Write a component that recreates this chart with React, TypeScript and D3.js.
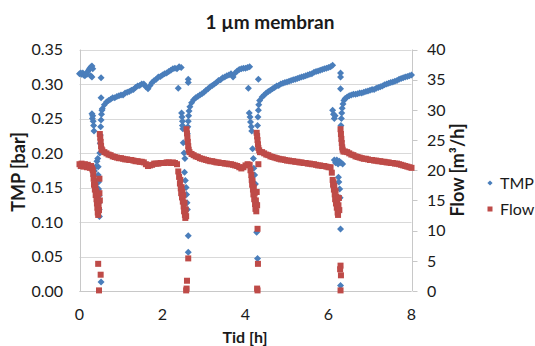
import React from 'react';
import * as d3 from 'd3';

type P = [number, number];

// ---- axis ticks ----
const xTicks = [0, 2, 4, 6, 8];
const tmpTicks = [0, 0.05, 0.1, 0.15, 0.2, 0.25, 0.3, 0.35];
const flowTicks = [0, 5, 10, 15, 20, 25, 30, 35, 40];

// ---- TMP [bar] (time h, value) ----
const tmpRun0: P[] = [[0.00,0.315],[0.03,0.316],[0.05,0.314],[0.08,0.316],[0.10,0.313],[0.13,0.312],[0.15,0.315],[0.18,0.314],[0.20,0.318],[0.23,0.321],[0.25,0.323],[0.28,0.325],[0.30,0.326],[0.32,0.322],[0.30,0.310],[0.27,0.312]];
const tmpDrop1: P[] = [[0.30,0.257],[0.31,0.250],[0.32,0.254],[0.33,0.246],[0.34,0.240],[0.35,0.232],[0.36,0.174],[0.39,0.180],[0.42,0.188],[0.44,0.192],[0.45,0.180],[0.45,0.168],[0.46,0.158],[0.46,0.148],[0.47,0.138],[0.47,0.128],[0.475,0.118],[0.48,0.108],[0.52,0.309],[0.52,0.280],[0.52,0.013],[0.49,0.200],[0.50,0.214],[0.50,0.226],[0.51,0.238],[0.52,0.248],[0.53,0.256],[0.54,0.262]];
const tmpRun1: P[] = [[0.55,0.264],[0.60,0.270],[0.65,0.274],[0.70,0.276],[0.75,0.278],[0.80,0.280],[0.85,0.280],[0.90,0.282],[0.95,0.283],[1.00,0.284],[1.05,0.284],[1.10,0.287],[1.15,0.288],[1.20,0.289],[1.25,0.291],[1.30,0.292],[1.35,0.295],[1.40,0.297],[1.45,0.298],[1.50,0.300],[1.55,0.300],[1.60,0.296],[1.65,0.293],[1.70,0.298],[1.75,0.302],[1.80,0.305],[1.85,0.307],[1.90,0.310],[1.95,0.311],[2.00,0.313],[2.05,0.315],[2.10,0.316],[2.15,0.318],[2.20,0.320],[2.25,0.322],[2.30,0.323],[2.35,0.322],[2.40,0.325],[2.45,0.324]];
const tmpDrop2: P[] = [[2.38,0.294],[2.62,0.307],[2.62,0.302],[2.46,0.258],[2.47,0.252],[2.48,0.246],[2.48,0.240],[2.49,0.235],[2.50,0.215],[2.52,0.200],[2.54,0.192],[2.53,0.172],[2.55,0.160],[2.57,0.150],[2.58,0.140],[2.59,0.128],[2.60,0.118],[2.62,0.080],[2.62,0.056],[2.60,0.228],[2.61,0.238],[2.62,0.246],[2.63,0.254],[2.64,0.261],[2.66,0.267]];
const tmpRun2: P[] = [[2.70,0.273],[2.75,0.277],[2.80,0.280],[2.85,0.282],[2.90,0.284],[2.95,0.286],[3.00,0.288],[3.05,0.291],[3.10,0.293],[3.15,0.296],[3.20,0.298],[3.25,0.300],[3.30,0.302],[3.35,0.305],[3.40,0.306],[3.45,0.309],[3.50,0.310],[3.55,0.312],[3.60,0.313],[3.65,0.315],[3.70,0.310],[3.75,0.316],[3.80,0.319],[3.85,0.321],[3.90,0.322],[3.95,0.323],[4.00,0.323],[4.05,0.324],[4.10,0.325]];
const tmpDrop3: P[] = [[4.07,0.294],[4.31,0.307],[4.09,0.258],[4.11,0.252],[4.12,0.245],[4.14,0.238],[4.15,0.232],[4.17,0.206],[4.19,0.192],[4.20,0.178],[4.22,0.168],[4.24,0.155],[4.25,0.142],[4.26,0.128],[4.27,0.085],[4.29,0.047],[4.27,0.228],[4.29,0.240],[4.30,0.252],[4.31,0.262],[4.32,0.270],[4.34,0.276]];
const tmpRun3: P[] = [[4.40,0.281],[4.45,0.284],[4.50,0.287],[4.55,0.289],[4.60,0.291],[4.65,0.293],[4.70,0.295],[4.75,0.297],[4.80,0.298],[4.85,0.300],[4.90,0.301],[4.95,0.302],[5.00,0.303],[5.05,0.304],[5.10,0.305],[5.15,0.306],[5.20,0.307],[5.25,0.308],[5.30,0.309],[5.35,0.310],[5.40,0.311],[5.45,0.312],[5.50,0.313],[5.55,0.314],[5.60,0.315],[5.65,0.317],[5.70,0.318],[5.75,0.319],[5.80,0.320],[5.85,0.321],[5.90,0.322],[5.95,0.323],[6.00,0.324],[6.05,0.325],[6.10,0.327]];
const tmpDrop4: P[] = [[6.29,0.316],[6.29,0.310],[6.29,0.293],[6.10,0.262],[6.12,0.256],[6.14,0.250],[6.16,0.254],[6.14,0.190],[6.17,0.186],[6.20,0.190],[6.23,0.184],[6.26,0.188],[6.30,0.186],[6.34,0.184],[6.24,0.165],[6.25,0.158],[6.27,0.148],[6.28,0.135],[6.29,0.090],[6.29,0.008],[6.30,0.240],[6.31,0.250],[6.32,0.258],[6.33,0.265],[6.35,0.271],[6.37,0.276]];
const tmpRun4: P[] = [[6.40,0.279],[6.45,0.281],[6.50,0.283],[6.55,0.284],[6.60,0.285],[6.65,0.285],[6.70,0.286],[6.75,0.287],[6.80,0.287],[6.85,0.288],[6.90,0.289],[6.95,0.290],[7.00,0.291],[7.05,0.292],[7.10,0.292],[7.15,0.294],[7.20,0.295],[7.25,0.296],[7.30,0.297],[7.35,0.299],[7.40,0.300],[7.45,0.301],[7.50,0.302],[7.55,0.303],[7.60,0.304],[7.65,0.305],[7.70,0.307],[7.75,0.308],[7.80,0.309],[7.85,0.310],[7.90,0.311],[7.95,0.312],[8.00,0.313]];

// ---- Flow [m3/h] (time h, value) ----
const flowRun0: P[] = [[0.00,21.0],[0.03,20.7],[0.05,21.1],[0.08,20.8],[0.10,20.6],[0.13,21.0],[0.15,20.7],[0.18,20.5],[0.20,20.9],[0.23,20.6],[0.25,20.4],[0.28,20.7],[0.30,20.3],[0.32,20.0]];
const flowDrop1: P[] = [[0.33,19.4],[0.34,18.6],[0.35,17.6],[0.36,18.2],[0.37,16.8],[0.38,17.5],[0.39,15.9],[0.40,16.6],[0.41,15.2],[0.42,16.0],[0.42,14.5],[0.43,13.8],[0.44,15.3],[0.44,13.0],[0.45,12.6],[0.46,14.2],[0.47,13.4],[0.48,18.6],[0.48,16.2],[0.49,15.0],[0.45,4.5],[0.51,2.7],[0.47,0.1],[0.49,26.0],[0.50,25.4],[0.51,24.7],[0.52,24.0],[0.53,23.5]];
const flowRun1: P[] = [[0.55,23.3],[0.60,23.0],[0.65,22.8],[0.70,22.6],[0.75,22.5],[0.80,22.3],[0.85,22.2],[0.90,22.1],[0.95,22.0],[1.00,22.0],[1.05,21.9],[1.10,21.8],[1.15,21.8],[1.20,21.7],[1.25,21.7],[1.30,21.6],[1.35,21.5],[1.40,21.5],[1.45,21.4],[1.50,21.4],[1.55,21.3],[1.60,21.0],[1.65,20.7],[1.70,20.8],[1.75,20.9],[1.80,21.1],[1.85,21.1],[1.90,21.1],[1.95,21.2],[2.00,21.2],[2.05,21.2],[2.10,21.3],[2.15,21.3],[2.20,21.2],[2.25,21.3],[2.30,21.2],[2.35,21.0]];
const flowDrop2: P[] = [[2.38,19.8],[2.40,18.9],[2.42,17.8],[2.43,18.4],[2.44,17.0],[2.45,16.2],[2.46,17.2],[2.47,15.5],[2.48,16.4],[2.49,14.8],[2.50,15.8],[2.51,14.0],[2.52,13.2],[2.53,14.6],[2.54,12.6],[2.55,12.1],[2.56,13.5],[2.57,12.4],[2.62,5.4],[2.59,1.7],[2.57,0.1],[2.58,0.4],[2.58,26.8],[2.59,26.1],[2.60,25.4],[2.61,24.7],[2.62,24.0],[2.63,23.4],[2.65,23.0]];
const flowRun2: P[] = [[2.70,22.7],[2.75,22.5],[2.80,22.3],[2.85,22.2],[2.90,22.0],[2.95,21.9],[3.00,21.8],[3.05,21.7],[3.10,21.6],[3.15,21.5],[3.20,21.5],[3.25,21.4],[3.30,21.3],[3.35,21.3],[3.40,21.2],[3.45,21.2],[3.50,21.1],[3.55,21.1],[3.60,21.0],[3.65,21.0],[3.70,20.9],[3.75,20.8],[3.80,20.7],[3.85,20.5],[3.90,20.3],[3.95,20.5],[4.00,20.8],[4.05,21.0],[4.10,20.9]];
const flowDrop3: P[] = [[4.12,20.0],[4.14,19.2],[4.15,18.4],[4.16,17.6],[4.17,18.2],[4.18,16.8],[4.19,16.0],[4.20,17.2],[4.21,15.2],[4.22,16.2],[4.23,14.4],[4.24,13.6],[4.25,15.0],[4.26,13.2],[4.27,16.4],[4.28,14.2],[4.31,21.0],[4.29,10.3],[4.30,4.5],[4.29,0.1],[4.28,0.4],[4.27,26.2],[4.28,25.6],[4.29,25.0],[4.30,24.3],[4.31,23.7],[4.33,23.3],[4.35,23.0]];
const flowRun3: P[] = [[4.40,23.0],[4.45,22.8],[4.50,22.6],[4.55,22.5],[4.60,22.3],[4.65,22.2],[4.70,22.1],[4.75,22.0],[4.80,21.9],[4.85,21.8],[4.90,21.8],[4.95,21.7],[5.00,21.6],[5.05,21.6],[5.10,21.5],[5.15,21.5],[5.20,21.4],[5.25,21.4],[5.30,21.3],[5.35,21.3],[5.40,21.2],[5.45,21.2],[5.50,21.1],[5.55,21.1],[5.60,21.0],[5.65,21.0],[5.70,20.9],[5.75,20.8],[5.80,20.8],[5.85,20.7],[5.90,20.7],[5.95,20.6],[6.00,20.5],[6.05,20.5]];
const flowDrop4: P[] = [[6.08,19.6],[6.10,18.4],[6.11,17.6],[6.12,18.0],[6.13,16.8],[6.14,17.4],[6.15,16.0],[6.16,15.2],[6.17,16.6],[6.18,14.5],[6.19,15.6],[6.20,13.8],[6.21,14.8],[6.22,13.0],[6.23,12.6],[6.24,14.2],[6.25,15.4],[6.26,13.4],[6.29,4.2],[6.28,3.6],[6.30,2.6],[6.29,0.1],[6.29,26.8],[6.30,26.0],[6.31,25.2],[6.32,24.5],[6.33,23.8],[6.34,23.4],[6.36,23.1]];
const flowRun4: P[] = [[6.40,23.1],[6.45,23.0],[6.50,22.8],[6.55,22.6],[6.60,22.5],[6.65,22.3],[6.70,22.2],[6.75,22.1],[6.80,22.0],[6.85,21.9],[6.90,21.9],[6.95,21.8],[7.00,21.7],[7.05,21.7],[7.10,21.6],[7.15,21.6],[7.20,21.5],[7.25,21.5],[7.30,21.4],[7.35,21.4],[7.40,21.3],[7.45,21.3],[7.50,21.2],[7.55,21.2],[7.60,21.1],[7.65,21.1],[7.70,21.0],[7.75,20.9],[7.80,20.8],[7.85,20.7],[7.90,20.6],[7.95,20.5],[8.00,20.4]];

const tmpData: P[] = [...tmpRun0, ...tmpDrop1, ...tmpRun1, ...tmpDrop2, ...tmpRun2, ...tmpDrop3, ...tmpRun3, ...tmpDrop4, ...tmpRun4];
const flowData: P[] = [...flowRun0, ...flowDrop1, ...flowRun1, ...flowDrop2, ...flowRun2, ...flowDrop3, ...flowRun3, ...flowDrop4, ...flowRun4];

const BLUE = '#4a7ebb';
const RED = '#be4b48';
const FONT = 'Lato, "Open Sans", sans-serif';
const TXT = '#1a1a1a';

export default function App() {
  const W = 535, H = 346;
  const x = d3.scaleLinear().domain([0, 8]).range([79.5, 411.5]);
  const yT = d3.scaleLinear().domain([0, 0.35]).range([291, 49.5]);
  const yF = d3.scaleLinear().domain([0, 40]).range([291, 49.5]);
  const dr = 3.5; // diamond half-diagonal
  const sq = 6; // square side
  const diamond = `M0,${-dr}L${dr},0L0,${dr}L${-dr},0Z`;

  return (
    <svg width={W} height={H} style={{ position: 'absolute', left: 0, top: 0, background: '#fff' }} fontFamily={FONT}>
      <rect x={0} y={0} width={W} height={H} fill="#fff" />
      {/* gridlines */}
      {tmpTicks.map((t) => (
        <line key={'g' + t} x1={x(0)} x2={x(8)} y1={Math.round(yT(t)) + 0.5} y2={Math.round(yT(t)) + 0.5} stroke="#d9d9d9" strokeWidth={1} />
      ))}
      {/* axis lines */}
      <line x1={Math.round(x(0)) + 0.5} x2={Math.round(x(0)) + 0.5} y1={yT(0.35)} y2={yT(0)} stroke="#c8c8c8" />
      <line x1={Math.round(x(8)) + 0.5} x2={Math.round(x(8)) + 0.5} y1={yT(0.35)} y2={yT(0)} stroke="#c8c8c8" />
      <line x1={x(0)} x2={x(8)} y1={Math.round(yT(0)) + 0.5} y2={Math.round(yT(0)) + 0.5} stroke="#c8c8c8" />
      {flowTicks.map((f) => (
        <line key={'rt' + f} x1={Math.round(x(8)) + 0.5} x2={Math.round(x(8)) + 5.5} y1={Math.round(yF(f)) + 0.5} y2={Math.round(yF(f)) + 0.5} stroke="#c8c8c8" />
      ))}
      {/* left tick labels */}
      {tmpTicks.map((t) => (
        <text key={'lt' + t} x={63} y={yT(t) + 5.8} textAnchor="end" fontSize={16} fill={TXT}>{t.toFixed(2)}</text>
      ))}
      {/* right tick labels */}
      {flowTicks.map((f) => (
        <text key={'rl' + f} x={427} y={yF(f) + 5.8} textAnchor="start" fontSize={16} fill={TXT}>{f}</text>
      ))}
      {/* x tick labels */}
      {xTicks.map((t) => (
        <text key={'xt' + t} x={x(t)} y={320} textAnchor="middle" fontSize={16} fill={TXT}>{t}</text>
      ))}
      {/* markers */}
      <g fill={BLUE}>
        {tmpData.map((d, i) => (
          <path key={'tp' + i} d={diamond} transform={`translate(${x(d[0])},${yT(d[1])})`} />
        ))}
      </g>
      <g fill={RED}>
        {flowData.map((d, i) => (
          <rect key={'fp' + i} x={x(d[0]) - sq / 2} y={yF(d[1]) - sq / 2} width={sq} height={sq} />
        ))}
      </g>
      {/* titles */}
      <text x={270} y={29} textAnchor="middle" fontSize={19} fontWeight="bold" fill={TXT}>1 µm membran</text>
      <text x={245} y={343} textAnchor="middle" fontSize={16} fontWeight="bold" fill={TXT}>Tid [h]</text>
      <text transform={`translate(25,172) rotate(-90)`} textAnchor="middle" fontSize={18} fontWeight="bold" fill={TXT}>TMP [bar]</text>
      <text transform={`translate(464,170) rotate(-90)`} textAnchor="middle" fontSize={18} fontWeight="bold" fill={TXT}>Flow [m³/h]</text>
      {/* legend */}
      <path d={`M0,-2.6L2.6,0L0,2.6L-2.6,0Z`} transform="translate(490,183)" fill={BLUE} />
      <text x={500} y={188.8} fontSize={16} fill={TXT}>TMP</text>
      <rect x={487.5} y={206.5} width={5} height={5} fill={RED} />
      <text x={500} y={214.8} fontSize={16} fill={TXT}>Flow</text>
    </svg>
  );
}
